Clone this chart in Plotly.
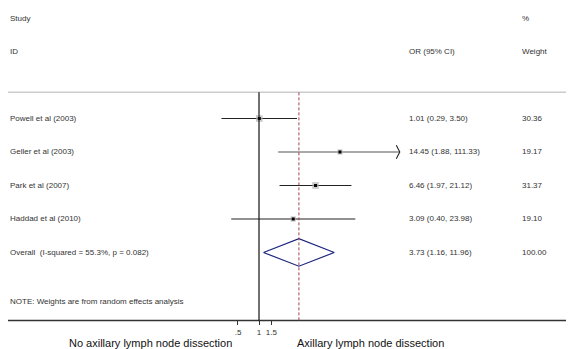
import math
import plotly.graph_objects as go

studies = ["Powell et al (2003)", "Geller et al (2003)", "Park et al (2007)", "Haddad et al (2010)"]
or_est = [1.01, 14.45, 6.46, 3.09]
ci_low = [0.29, 1.88, 1.97, 0.40]
ci_high = [3.50, 111.33, 21.12, 23.98]
weights = [30.36, 19.17, 31.37, 19.10]
or_text = ["1.01 (0.29, 3.50)", "14.45 (1.88, 111.33)", "6.46 (1.97, 21.12)", "3.09 (0.40, 23.98)"]
weight_text = ["30.36", "19.17", "31.37", "19.10"]

overall_label = "Overall  (I-squared = 55.3%, p = 0.082)"
overall_est = 3.73
overall_low = 1.16
overall_high = 11.96
overall_or_text = "3.73 (1.16, 11.96)"
overall_weight_text = "100.00"

tick_vals = [0.5, 1, 1.5]
tick_text = [".5", "1", "1.5"]
clip_max = 104.0

study_rows = [3, 4, 5, 6]
overall_row = 7

FONT = "Liberation Sans, Arial, sans-serif"
TXT = "#333333"
W, H = 566, 341  # page body has an 8px margin

fig = go.Figure()

# CI lines
for i, r in enumerate(study_rows):
    hi = min(ci_high[i], clip_max)
    col = "#555555" if ci_high[i] > clip_max else "#222222"
    fig.add_trace(go.Scatter(x=[ci_low[i], hi], y=[r, r], mode="lines",
                             line=dict(color=col, width=1.2), hoverinfo="skip", showlegend=False))
    if ci_high[i] > clip_max:
        f = 10 ** (3.5 / 69.8)
        fig.add_trace(go.Scatter(x=[hi / f, hi, hi / f], y=[r - 0.2, r, r + 0.2], mode="lines",
                                 line=dict(color="#222222", width=1.1), hoverinfo="skip", showlegend=False))

# weight boxes
fig.add_trace(go.Scatter(x=or_est, y=study_rows, mode="markers",
                         marker=dict(symbol="square", color="#b4b4b4",
                                     size=[1.2 * math.sqrt(w) for w in weights], line=dict(width=0)),
                         hoverinfo="skip", showlegend=False))
fig.add_trace(go.Scatter(x=or_est, y=study_rows, mode="markers",
                         marker=dict(symbol="square", color="#000000", size=3),
                         hoverinfo="skip", showlegend=False))

# overall diamond
fig.add_trace(go.Scatter(x=[overall_low, overall_est, overall_high, overall_est, overall_low],
                         y=[overall_row, overall_row - 0.41, overall_row, overall_row + 0.41, overall_row],
                         mode="lines", line=dict(color="#1a237e", width=1.2),
                         hoverinfo="skip", showlegend=False))

shapes = [
    dict(type="line", xref="paper", yref="y", x0=0, x1=1, y0=2.22, y1=2.22,
         line=dict(color="#cccccc", width=1.5)),
    dict(type="line", xref="paper", yref="y", x0=0, x1=1, y0=9.03, y1=9.03,
         line=dict(color="#333333", width=1.5)),
    dict(type="line", xref="x", yref="y", x0=1, x1=1, y0=2.22, y1=9.03,
         line=dict(color="#111111", width=1.2)),
    dict(type="line", xref="x", yref="y", x0=overall_est, x1=overall_est, y0=2.22, y1=9.03,
         line=dict(color="#a0454a", width=1, dash="3px,2px")),
]

ann = []
def txt(x, y, s, size=8, xanchor="left"):
    ann.append(dict(x=x, y=y, xref="paper", yref="y", text=s, showarrow=False,
                    xanchor=xanchor, yanchor="middle", font=dict(family=FONT, size=size, color=TXT)))

X_STUDY, X_OR, X_W = 0.0, (409 - 10) / W, (522 - 10) / W
txt(X_STUDY, 0, "Study")
txt(X_STUDY, 1, "ID")
txt(X_W, 0, "%")
txt(X_OR, 1, "OR (95% CI)")
txt(X_W, 1, "Weight")
for i, r in enumerate(study_rows):
    txt(X_STUDY, r, studies[i])
    txt(X_OR, r, or_text[i])
    txt(X_W, r, weight_text[i])
txt(X_STUDY, overall_row, overall_label)
txt(X_OR, overall_row, overall_or_text)
txt(X_W, overall_row, overall_weight_text)
txt(X_STUDY, 8.46, "NOTE: Weights are from random effects analysis")

for xc, s in [(142 / W, "No axillary lymph node dissection"), (362 / W, "Axillary lymph node dissection")]:
    ann.append(dict(x=xc, y=9.687, xref="paper", yref="y", text=s, showarrow=False,
                    xanchor="center", yanchor="middle", font=dict(family=FONT, size=11, color="#111111")))

fig.update_layout(
    width=W, height=H,
    margin=dict(l=0, r=0, t=0, b=0),
    paper_bgcolor="white", plot_bgcolor="white",
    shapes=shapes, annotations=ann,
    xaxis=dict(type="log", range=[-251 / 69.8, 315 / 69.8], domain=[0, 1],
               showgrid=False, zeroline=False, showline=False,
               anchor="free", position=(H - 312) / H,
               ticks="outside", ticklen=4, tickwidth=1, tickcolor="#333333",
               tickvals=tick_vals, ticktext=tick_text,
               tickfont=dict(family=FONT, size=8, color=TXT)),
    yaxis=dict(range=[9.881, -0.2985], domain=[0, 1], visible=False, showgrid=False, zeroline=False),
)

fig.write_html("out.html")
